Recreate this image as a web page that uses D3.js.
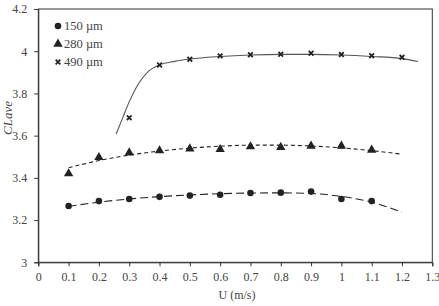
<!DOCTYPE html>
<html>
<head>
<meta charset="utf-8">
<script src="https://cdn.jsdelivr.net/npm/d3@7"></script>
<style>
  body { margin: 0; background: #fff; }
  svg text { font-family: "Liberation Serif", "Times New Roman", serif; }
</style>
</head>
<body>
<div id="chart"></div>
<script>
// measured points
const uVals = [0.1, 0.2, 0.3, 0.4, 0.5, 0.6, 0.7, 0.8, 0.9, 1.0, 1.1];
const c150 = [3.267, 3.29, 3.30, 3.31, 3.316, 3.32, 3.328, 3.33, 3.335, 3.30, 3.29];
const c280 = [3.42, 3.497, 3.519, 3.529, 3.538, 3.535, 3.548, 3.545, 3.551, 3.551, 3.532];
const u490 = [0.3, 0.4, 0.5, 0.6, 0.7, 0.8, 0.9, 1.0, 1.1, 1.2];
const c490 = [3.685, 3.935, 3.962, 3.978, 3.983, 3.986, 3.99, 3.984, 3.979, 3.971];

// trend lines
const trendU = [0.1, 0.2, 0.3, 0.4, 0.5, 0.6, 0.7, 0.8, 0.9, 1.0, 1.1, 1.2];
const trend150 = [3.265, 3.285, 3.300, 3.311, 3.319, 3.325, 3.328, 3.329, 3.326, 3.312, 3.285, 3.237];
const trend280 = [3.448, 3.482, 3.508, 3.527, 3.541, 3.550, 3.555, 3.555, 3.551, 3.542, 3.529, 3.512];
const trendU490 = [0.257, 0.28, 0.3, 0.33, 0.36, 0.4, 0.45, 0.5, 0.6, 0.7, 0.8, 0.9, 1.0, 1.1, 1.2, 1.253];
const trend490 = [3.608, 3.69, 3.76, 3.845, 3.9, 3.935, 3.952, 3.963, 3.975, 3.982, 3.985, 3.985, 3.982, 3.975, 3.965, 3.951];

const xTicks = [0, 0.1, 0.2, 0.3, 0.4, 0.5, 0.6, 0.7, 0.8, 0.9, 1, 1.1, 1.2, 1.3];
const yTicks = [3, 3.2, 3.4, 3.6, 3.8, 4, 4.2];
const legendLabels = ['150 \u00b5m', '280 \u00b5m', '490 \u00b5m'];

const w = 439, h = 306;
const margin = {left: 38.3, right: 6.7, top: 9, bottom: 43.7};
const serif = '"Liberation Serif", "Times New Roman", serif';

let svg = d3.select('#chart').append('svg')
  .attr('width', w)
  .attr('height', h);

const xScale = d3.scaleLinear().domain([0, 1.3]).range([margin.left, w - margin.right]);
const yScale = d3.scaleLinear().domain([3, 4.2]).range([h - margin.bottom, margin.top]);

const ink = '#333';
const textCol = '#444';

// frame
svg.append('rect')
  .attr('x', xScale(0)).attr('y', yScale(4.2))
  .attr('width', xScale(1.3) - xScale(0))
  .attr('height', yScale(3) - yScale(4.2))
  .attr('fill', 'none').attr('stroke', ink).attr('stroke-width', 1);

const xAxis = d3.axisBottom(xScale).tickValues(xTicks).tickSize(4).tickPadding(6)
  .tickFormat(d => d3.format('')(+d.toFixed(1)));
svg.append('g')
  .attr('transform', 'translate(0,' + yScale(3) + ')')
  .call(xAxis)
  .attr('font-family', serif).attr('font-size', 12)
  .call(g => g.select('.domain').attr('stroke', ink))
  .call(g => g.selectAll('.tick line').attr('stroke', ink))
  .call(g => g.selectAll('text').attr('fill', textCol));

const yAxis = d3.axisLeft(yScale).tickValues(yTicks).tickSize(4).tickPadding(7)
  .tickFormat(d => d3.format('')(+d.toFixed(1)));
svg.append('g')
  .attr('transform', 'translate(' + xScale(0) + ',0)')
  .call(yAxis)
  .attr('font-family', serif).attr('font-size', 12)
  .call(g => g.select('.domain').attr('stroke', ink))
  .call(g => g.selectAll('.tick line').attr('stroke', ink))
  .call(g => g.selectAll('text').attr('fill', textCol));

// axis titles
svg.append('text')
  .attr('x', 237).attr('y', 299)
  .attr('text-anchor', 'middle')
  .attr('fill', textCol).style('font-size', '12px')
  .text('U (m/s)');

svg.append('text')
  .attr('transform', 'translate(12,118) rotate(-90)')
  .attr('text-anchor', 'middle')
  .attr('fill', textCol).style('font-size', '13px').style('font-style', 'italic')
  .text('CLave');

// trend lines
const line = d3.line().x(d => xScale(d[0])).y(d => yScale(d[1])).curve(d3.curveMonotoneX);

svg.append('path')
  .datum(trendU.map((u, i) => [u, trend150[i]]))
  .attr('d', line)
  .attr('fill', 'none').attr('stroke', '#222').attr('stroke-width', 1.1)
  .attr('stroke-dasharray', '8,4');

svg.append('path')
  .datum(trendU.map((u, i) => [u, trend280[i]]))
  .attr('d', line)
  .attr('fill', 'none').attr('stroke', '#222').attr('stroke-width', 1.1)
  .attr('stroke-dasharray', '4,3');

svg.append('path')
  .datum(trendU490.map((u, i) => [u, trend490[i]]))
  .attr('d', line)
  .attr('fill', 'none').attr('stroke', '#555').attr('stroke-width', 1.1);

// markers
const markCol = '#222';
const circleSym = d3.symbol().type(d3.symbolCircle).size(34);
const triSym = d3.symbol().type(d3.symbolTriangle).size(38);
const crossSym = d3.symbol().type(d3.symbolX).size(16);

svg.selectAll('.m150')
  .data(uVals.map((u, i) => [u, c150[i]]))
  .enter().append('path')
  .attr('class', 'm150')
  .attr('d', circleSym)
  .attr('transform', d => 'translate(' + xScale(d[0]) + ',' + yScale(d[1]) + ')')
  .attr('fill', markCol);

svg.selectAll('.m280')
  .data(uVals.map((u, i) => [u, c280[i]]))
  .enter().append('path')
  .attr('class', 'm280')
  .attr('d', triSym)
  .attr('transform', d => 'translate(' + xScale(d[0]) + ',' + yScale(d[1]) + ')')
  .attr('fill', markCol);

svg.selectAll('.m490')
  .data(u490.map((u, i) => [u, c490[i]]))
  .enter().append('path')
  .attr('class', 'm490')
  .attr('d', crossSym)
  .attr('transform', d => 'translate(' + xScale(d[0]) + ',' + yScale(d[1]) + ')')
  .attr('fill', 'none').attr('stroke', markCol).attr('stroke-width', 1.8);

// legend
const syms = [circleSym, triSym, crossSym];
let legend = svg.append('g');
legendLabels.forEach((lab, i) => {
  let yy = 26 + i * 18;
  let p = legend.append('path')
    .attr('d', syms[i])
    .attr('transform', 'translate(58,' + yy + ')');
  if (i == 2) {
    p.attr('fill', 'none').attr('stroke', markCol).attr('stroke-width', 1.8);
  } else {
    p.attr('fill', markCol);
  }
  legend.append('text')
    .attr('x', 64).attr('y', yy + 4)
    .attr('fill', textCol).style('font-size', '12.5px')
    .text(lab);
});
</script>
</body>
</html>
